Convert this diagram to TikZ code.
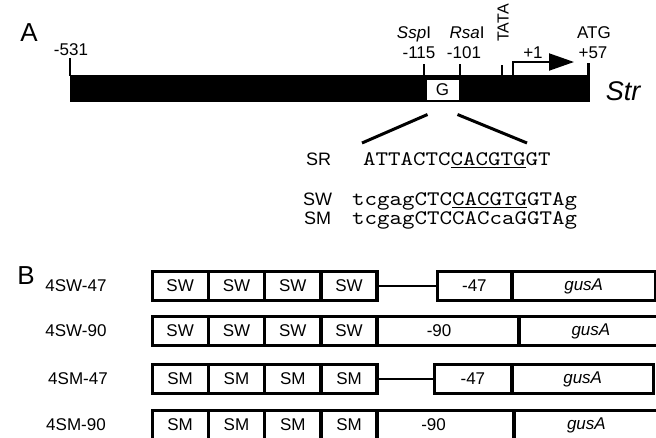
\documentclass[tikz,border=0pt]{standalone}
\usepackage{fontspec}
\setmainfont{Liberation Sans}
\newfontfamily\seqfont{lmmono10-regular.otf}[FakeStretch=1.15]
\usetikzlibrary{arrows.meta}
\newcommand\ulseq[1]{\setbox0\hbox{#1}\rlap{\rule[-3.4pt]{\wd0}{1.3pt}}\box0}
\newcommand\fsz[1]{\fontsize{#1}{#1}\selectfont}
\begin{document}
\begin{tikzpicture}[x=1pt,y=-1pt,
  lbl/.style={inner sep=0pt, font=\fsz{17}},
  panel/.style={inner sep=0pt, font=\fsz{26}},
  seqlbl/.style={inner sep=0pt, anchor=base west, font=\fsz{18}},
  seqtxt/.style={inner sep=0pt, anchor=base west, font=\seqfont\fsz{20.7}},
  tick/.style={line width=2.5pt},
  cell/.style={draw, line width=1.8pt, minimum height=27pt, inner sep=0pt, anchor=west, font=\fsz{17}},
  outer/.style={draw, line width=2.8pt},
  rowlbl/.style={inner sep=0pt, font=\fsz{17}},
  link/.style={line width=2pt}]
\useasboundingbox (0,0) rectangle (656,437);
% ---------- Panel A ----------
\node[panel, anchor=base] (A) at (29,41) {A};
\fill (70,75) rectangle (590,102);
\node[draw, fill=white, line width=1pt, minimum width=33pt, minimum height=21pt, inner sep=0pt, font=\fsz{17}] (G) at (442.5,89.5) {G};
\node[lbl, anchor=base] (m531) at (71,55) {-531};
\node[lbl, anchor=base] (ssp) at (414,38) {\textit{Ssp}I};
\node[lbl, anchor=base] (rsa) at (467,38) {\textit{Rsa}I};
\node[lbl, anchor=base] (m115) at (419,58) {-115};
\node[lbl, anchor=base] (m101) at (464,58) {-101};
\node[lbl, rotate=90, font=\fsz{16}] (tata) at (503,23) {TATA};
\node[lbl, anchor=base] (p1) at (533,58) {+1};
\node[lbl, anchor=base] (atg) at (594,38) {ATG};
\node[lbl, anchor=base] (p57) at (593,58) {+57};
\node[inner sep=0pt, anchor=base, font=\fsz{27}\itshape] (str) at (623,100) {Str};
\draw[tick] (70,58) -- (70,76);
\draw[tick] (424,64) -- (424,76);
\draw[tick] (460,64) -- (460,76);
\draw[tick] (502,65) -- (502,76);
\draw[tick] (588.5,63) -- (588.5,76);
\coordinate (tss) at (513,76);
\coordinate (tsstop) at (513,62);
\coordinate (tssend) at (574,62);
\draw[line width=2pt, -{Triangle[length=25pt,width=17pt]}] (tss) -- (tsstop) -- (tssend);
% expansion lines
\coordinate (e1) at (362,143);
\coordinate (e2) at (527,143);
\draw[line width=3pt] ([xshift=-15pt,yshift=-14pt]G.south) -- (e1);
\draw[line width=3pt] ([xshift=15pt,yshift=-14pt]G.south) -- (e2);
% sequences
\node[seqlbl] (sr) at (306,165) {SR};
\node[seqtxt] (srs) at (363,165) {ATTACTC\ulseq{CACGTG}GT};
\node[seqlbl] (sw) at (303,205) {SW};
\node[seqtxt] (sws) at (352,205) {tcgagCTC\ulseq{CACGTG}GTAg};
\node[seqlbl] (sm) at (304,224) {SM};
\node[seqtxt] (sms) at (352,224) {tcgagCTCCACcaGGTAg};
% ---------- Panel B ----------
\node[panel, anchor=base] (B) at (26,284) {B};
% row 1
\node[rowlbl] (l1) at (76,286) {4SW-47};
\node[cell, minimum width=54.5pt] (r1a) at (152,286) {SW};
\node[cell, minimum width=54.5pt] (r1b) at (r1a.east) {SW};
\node[cell, minimum width=54.5pt] (r1c) at (r1b.east) {SW};
\node[cell, minimum width=54.5pt] (r1d) at (r1c.east) {SW};
\node[cell, minimum width=73pt] (r1p) at (437,286) {-47};
\node[cell, minimum width=142pt] (r1g) at (r1p.east) {\itshape gusA};
\draw[outer] (r1a.north west) rectangle (r1d.south east);
\draw[outer] (r1p.north west) rectangle (r1g.south east);
\draw[link] (r1d.east) -- (r1p.west);
% row 2
\node[rowlbl] (l2) at (76,331) {4SW-90};
\node[cell, minimum width=54.5pt] (r2a) at (152,331) {SW};
\node[cell, minimum width=54.5pt] (r2b) at (r2a.east) {SW};
\node[cell, minimum width=54.5pt] (r2c) at (r2b.east) {SW};
\node[cell, minimum width=54.5pt] (r2d) at (r2c.east) {SW};
\node[cell, minimum width=140pt] (r2p) at (r2d.east) {};
\node[rowlbl] (r2pt) at ([xshift=-9pt]r2p.center) {-90};
\node[cell, minimum width=142pt] (r2g) at (r2p.east) {\itshape gusA};
\draw[outer] (r2a.north west) rectangle (r2g.south east);
% row 3
\node[rowlbl] (l3) at (78,379) {4SM-47};
\node[cell, minimum width=54.5pt] (r3a) at (152,379) {SM};
\node[cell, minimum width=54.5pt] (r3b) at (r3a.east) {SM};
\node[cell, minimum width=54.5pt] (r3c) at (r3b.east) {SM};
\node[cell, minimum width=54.5pt] (r3d) at (r3c.east) {SM};
\node[cell, minimum width=76pt] (r3p) at (434,379) {-47};
\node[cell, minimum width=140pt] (r3g) at (r3p.east) {\itshape gusA};
\draw[outer] (r3a.north west) rectangle (r3d.south east);
\draw[outer] (r3p.north west) rectangle (r3g.south east);
\draw[link] (r3d.east) -- (r3p.west);
% row 4
\node[rowlbl] (l4) at (76,425) {4SM-90};
\node[cell, minimum width=54.5pt] (r4a) at (152,425) {SM};
\node[cell, minimum width=54.5pt] (r4b) at (r4a.east) {SM};
\node[cell, minimum width=54.5pt] (r4c) at (r4b.east) {SM};
\node[cell, minimum width=54.5pt] (r4d) at (r4c.east) {SM};
\node[cell, minimum width=135pt] (r4p) at (r4d.east) {};
\node[rowlbl] (r4pt) at ([xshift=-12pt]r4p.center) {-90};
\node[cell, minimum width=143pt] (r4g) at (r4p.east) {\itshape gusA};
\draw[outer] (r4a.north west) rectangle (r4g.south east);
\end{tikzpicture}
\end{document}
